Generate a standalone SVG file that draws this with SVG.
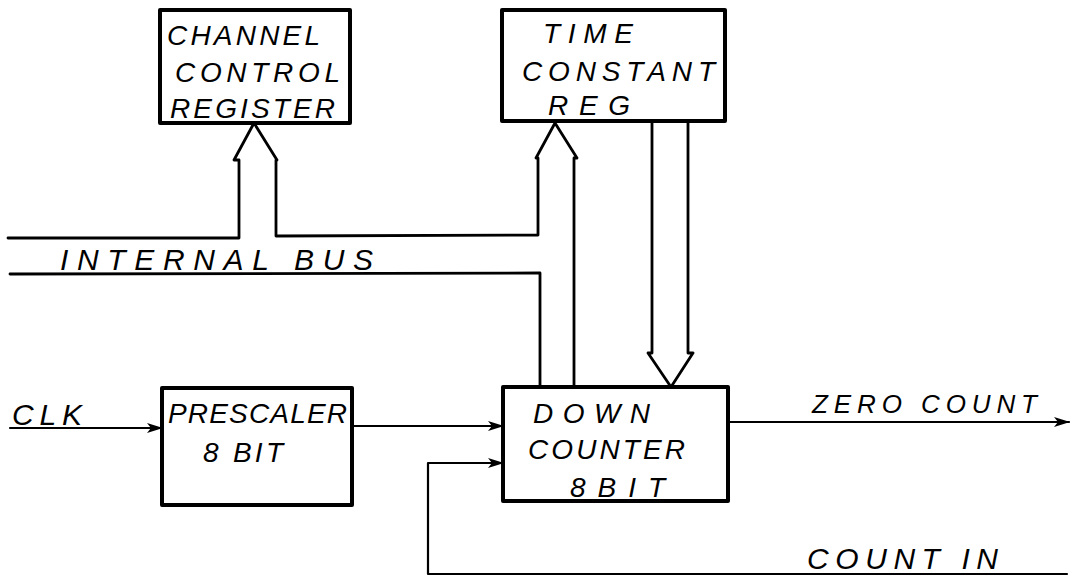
<svg xmlns="http://www.w3.org/2000/svg" width="1077" height="576" viewBox="0 0 1077 576">
<style>
.box{fill:#fff;stroke:#000;stroke-width:4;stroke-linejoin:round}
.ln{fill:none;stroke:#000;stroke-width:2.2;stroke-linejoin:round;stroke-linecap:round}
.bus{fill:none;stroke:#000;stroke-width:2.8;stroke-linejoin:round;stroke-linecap:round}
.t{font-family:"Liberation Sans",Arial,sans-serif;font-style:italic;font-size:28px;fill:#000}
</style>
<defs>
<marker id="ah" viewBox="0 0 16 10" refX="15" refY="5" markerWidth="16" markerHeight="10" markerUnits="userSpaceOnUse" orient="auto">
<path d="M0,0 L16,5 L0,10 L4,5 z" fill="#000"/>
</marker>
</defs>
<rect width="1077" height="576" fill="#fff"/>
<g id="connectors">
<path class="bus" d="M8,238 L239,238 L239,160 L234,160 L254,123 L277,160 L276,160 L276,236 L538,235 L538,158 L536,158 L555,123 L577,158 L574,158 L574,387"/>
<path class="bus" d="M10,274 L540,273 L540,387"/>
<path class="bus" d="M652,121 L652,353 L648,353 L671,387 L693,353 L688,353 L688,121"/>
<path class="ln" d="M10,428 L162,428" marker-end="url(#ah)"/>
<path class="ln" d="M352,426 L503,426" marker-end="url(#ah)"/>
<path class="ln" d="M1067,574 L428,574 L428,463 L503,463" marker-end="url(#ah)"/>
<path class="ln" d="M728,422 L1069,422" marker-end="url(#ah)"/>
</g>
<g id="ccr">
<rect class="box" x="160" y="10" width="190" height="113"/>
<text class="t" x="167" y="45" textLength="153" lengthAdjust="spacing">CHANNEL</text>
<text class="t" x="175" y="82" textLength="165" lengthAdjust="spacing">CONTROL</text>
<text class="t" x="170" y="118" textLength="165" lengthAdjust="spacing">REGISTER</text>
</g>
<g id="tcr">
<rect class="box" x="502" y="10" width="223" height="111"/>
<text class="t" x="543" y="43" textLength="90" lengthAdjust="spacing">TIME</text>
<text class="t" x="522" y="81" textLength="193" lengthAdjust="spacing">CONSTANT</text>
<text class="t" x="548" y="115" textLength="82" lengthAdjust="spacing">REG</text>
</g>
<g id="prescaler">
<rect class="box" x="162" y="388" width="190" height="117"/>
<text class="t" x="168" y="423" textLength="179" lengthAdjust="spacing">PRESCALER</text>
<text class="t" x="203" y="462" textLength="80" lengthAdjust="spacing">8 BIT</text>
</g>
<g id="downcounter">
<rect class="box" x="503" y="387" width="225" height="114"/>
<text class="t" x="533" y="423" textLength="117" lengthAdjust="spacing">DOWN</text>
<text class="t" x="528" y="459" textLength="157" lengthAdjust="spacing">COUNTER</text>
<text class="t" x="570" y="497" textLength="95" lengthAdjust="spacing">8BIT</text>
</g>
<g id="labels">
<text class="t" x="60" y="270" style="font-size:30px" textLength="313" lengthAdjust="spacing">INTERNAL BUS</text>
<text class="t" x="12" y="425" style="font-size:30px" textLength="70" lengthAdjust="spacing">CLK</text>
<text class="t" x="812" y="413" style="font-size:26px" textLength="225" lengthAdjust="spacing">ZERO COUNT</text>
<text class="t" x="807" y="569" style="font-size:30px" textLength="191" lengthAdjust="spacing">COUNT IN</text>
</g>
</svg>
